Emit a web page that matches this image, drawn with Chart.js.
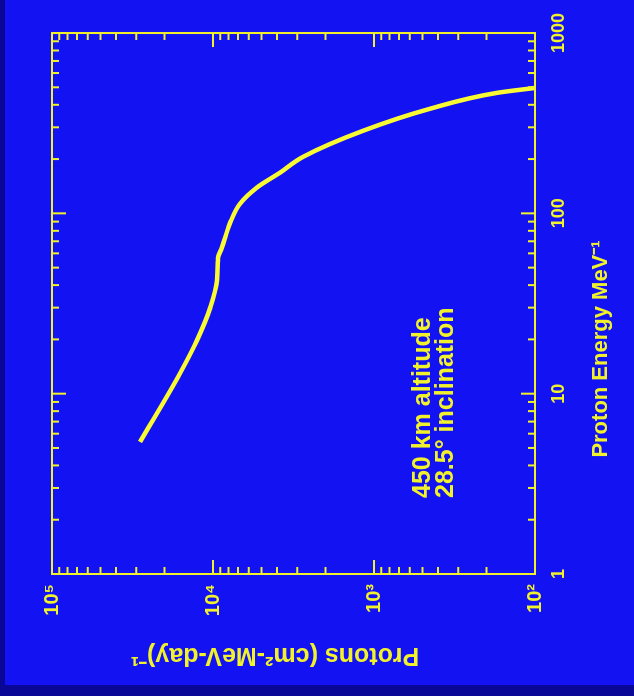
<!DOCTYPE html>
<html>
<head>
<meta charset="utf-8">
<script src="https://cdn.jsdelivr.net/npm/chart.js@4"></script>
<style>
  html, body { margin: 0; padding: 0; }
  body { width: 634px; height: 696px; background: #0a0796; position: relative; overflow: hidden; }
  #panel { position: absolute; left: 5px; top: 0; width: 629px; height: 685px; background: #1212f2; }
  /* the slide is turned on its side, so draw upright and rotate */
  #chart { position: absolute; left: 0; top: 0; transform-origin: 0 0; transform: translateY(696px) rotate(-90deg); }
</style>
</head>
<body>
<div id="panel"></div>
<canvas id="chart" width="696" height="634"></canvas>
<script>
// Proton energy (MeV) and flux (protons per cm2-MeV-day)
let energy = [5.4, 13, 19.7, 30, 42.4, 56.8, 64.6, 88, 113, 139, 168, 206, 287, 380, 466, 496];
let flux = [28400, 16000, 12600, 10400, 9450, 9300, 8800, 7850, 6800, 5330, 3840, 2750, 1170, 450, 172, 100];

let energyTicks = [1, 10, 100, 1000];
let energyTickLabels = ['1', '10', '100', '1000'];
let fluxTicks = [100, 1000, 10000, 100000];
let fluxTickLabels = ['10²', '10³', '10⁴', '10⁵'];

let yellow = '#f2f22a';
let lineYellow = '#fafa32';
let fontName = '"Liberation Sans", Arial, sans-serif';

// Frame, inward ticks on all four sides, titles and note
const frameTicks = {
    id: 'frameTicks',
    afterDraw(chart) {
        let ctx = chart.ctx;
        let a = chart.chartArea;
        let xs = chart.scales.x;
        let ys = chart.scales.y;

        ctx.save();
        ctx.strokeStyle = yellow;
        ctx.lineWidth = 2;
        ctx.strokeRect(a.left, a.top, a.right - a.left, a.bottom - a.top);

        ctx.beginPath();
        energyTicks.forEach((d, i) => {
            for (let m = 1; m <= 9; m++) {
                if (m > 1 && i === energyTicks.length - 1) break;
                let len = m === 1 ? 14 : 7;
                let px = xs.getPixelForValue(d * m);
                ctx.moveTo(px, a.bottom);
                ctx.lineTo(px, a.bottom - len);
                ctx.moveTo(px, a.top);
                ctx.lineTo(px, a.top + len);
            }
        });
        fluxTicks.forEach((d, i) => {
            for (let m = 1; m <= 9; m++) {
                if (m > 1 && i === fluxTicks.length - 1) break;
                let len = m === 1 ? 14 : 7;
                let py = ys.getPixelForValue(d * m);
                ctx.moveTo(a.left, py);
                ctx.lineTo(a.left + len, py);
                ctx.moveTo(a.right, py);
                ctx.lineTo(a.right - len, py);
            }
        });
        ctx.stroke();

        ctx.fillStyle = yellow;

        // x title (energy)
        ctx.font = 'bold 22px ' + fontName;
        ctx.textAlign = 'center';
        ctx.textBaseline = 'middle';
        ctx.fillText('Proton Energy MeV⁻¹', 347, 601);

        // y title (flux)
        ctx.save();
        ctx.translate(41, 275);
        ctx.rotate(-Math.PI / 2);
        ctx.font = 'bold 25px ' + fontName;
        ctx.fillText('Protons (cm²-MeV-day)⁻¹', 0, 0);
        ctx.restore();

        // orbit note
        ctx.font = 'bold 25px ' + fontName;
        ctx.textAlign = 'left';
        ctx.textBaseline = 'alphabetic';
        ctx.fillText('450 km altitude', 198, 430);
        ctx.fillText('28.5° inclination', 198, 453);

        ctx.restore();
    }
};

let ctx = document.getElementById('chart').getContext('2d');
new Chart(ctx, {
    type: 'line',
    data: {
        datasets: [{
            data: energy.map((e, i) => ({ x: e, y: flux[i] })),
            borderColor: lineYellow,
            borderWidth: 4.5,
            pointRadius: 0,
            cubicInterpolationMode: 'monotone',
            fill: false
        }]
    },
    options: {
        responsive: false,
        animation: false,
        layout: { padding: { left: 0, right: 32, top: 52, bottom: 0 } },
        plugins: {
            legend: { display: false },
            tooltip: { enabled: false }
        },
        scales: {
            x: {
                type: 'logarithmic',
                position: 'bottom',
                min: 1,
                max: 1000,
                afterBuildTicks: (scale) => { scale.ticks = energyTicks.map(v => ({ value: v })); },
                afterFit: (scale) => { scale.height = 99; },
                grid: { display: false, drawTicks: false },
                border: { display: false },
                ticks: {
                    autoSkip: false,
                    maxRotation: 0,
                    padding: 13,
                    color: yellow,
                    font: { family: fontName, size: 18, weight: 'bold' },
                    callback: (value, index) => energyTickLabels[index]
                }
            },
            y: {
                type: 'logarithmic',
                position: 'left',
                min: 100,
                max: 100000,
                afterBuildTicks: (scale) => { scale.ticks = fluxTicks.map(v => ({ value: v })); },
                afterFit: (scale) => { scale.width = 122; },
                grid: { display: false, drawTicks: false },
                border: { display: false },
                ticks: {
                    autoSkip: false,
                    padding: 10,
                    color: yellow,
                    font: { family: fontName, size: 20, weight: 'bold' },
                    callback: (value, index) => fluxTickLabels[index]
                }
            }
        }
    },
    plugins: [frameTicks]
});
</script>
</body>
</html>
